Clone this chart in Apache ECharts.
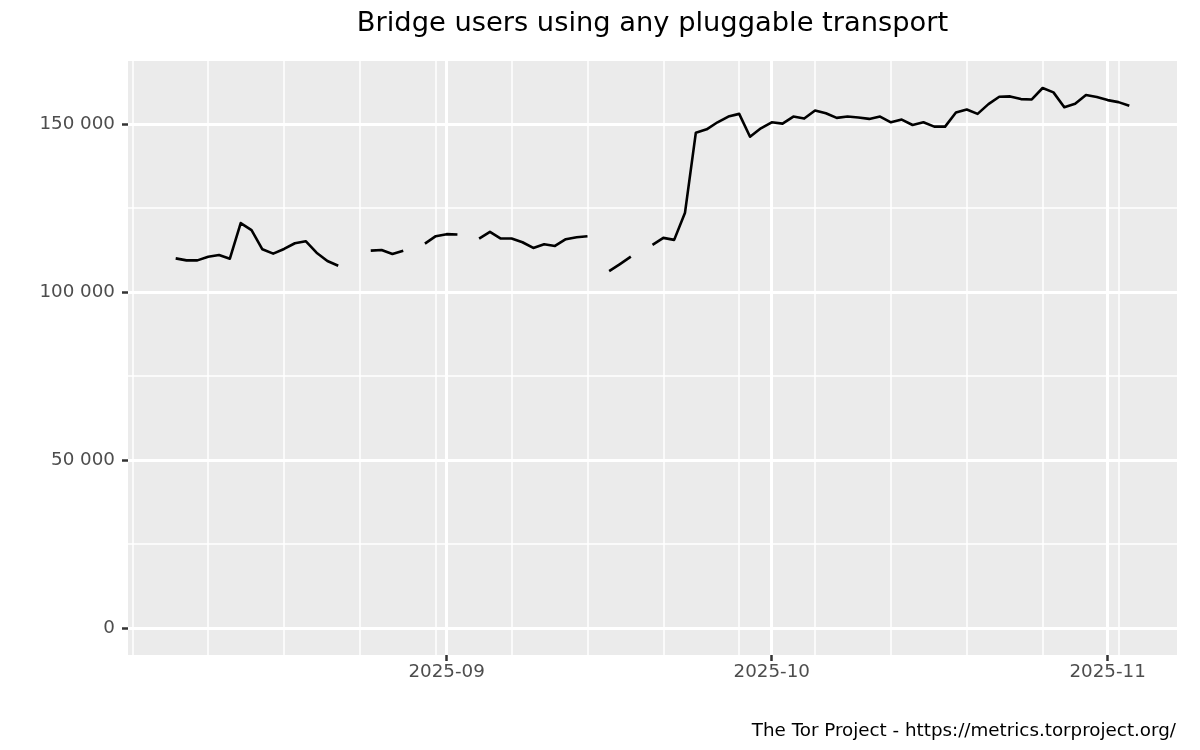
<!DOCTYPE html>
<html>
<head>
<meta charset="utf-8">
<script src="https://cdn.jsdelivr.net/npm/echarts@6/dist/echarts.min.js"></script>
<style>
html,body{margin:0;padding:0;background:#fff;}
#chart{width:1200px;height:750px;}
</style>
</head>
<body>
<div id="chart"></div>
<script>
var titleText = 'Bridge users using any pluggable transport';
var captionText = 'The Tor Project - https://metrics.torproject.org/';

var dates = [
 '2025-08-07','2025-08-08','2025-08-09','2025-08-10','2025-08-11','2025-08-12','2025-08-13','2025-08-14',
 '2025-08-15','2025-08-16','2025-08-17','2025-08-18','2025-08-19','2025-08-20','2025-08-21','2025-08-22',
 '2025-08-23','2025-08-24','2025-08-25','2025-08-26','2025-08-27','2025-08-28','2025-08-29','2025-08-30',
 '2025-08-31','2025-09-01','2025-09-02','2025-09-03','2025-09-04','2025-09-05','2025-09-06','2025-09-07',
 '2025-09-08','2025-09-09','2025-09-10','2025-09-11','2025-09-12','2025-09-13','2025-09-14','2025-09-15',
 '2025-09-16','2025-09-17','2025-09-18','2025-09-19','2025-09-20','2025-09-21','2025-09-22','2025-09-23',
 '2025-09-24','2025-09-25','2025-09-26','2025-09-27','2025-09-28','2025-09-29','2025-09-30','2025-10-01',
 '2025-10-02','2025-10-03','2025-10-04','2025-10-05','2025-10-06','2025-10-07','2025-10-08','2025-10-09',
 '2025-10-10','2025-10-11','2025-10-12','2025-10-13','2025-10-14','2025-10-15','2025-10-16','2025-10-17',
 '2025-10-18','2025-10-19','2025-10-20','2025-10-21','2025-10-22','2025-10-23','2025-10-24','2025-10-25',
 '2025-10-26','2025-10-27','2025-10-28','2025-10-29','2025-10-30','2025-10-31','2025-11-01','2025-11-02',
 '2025-11-03'
];

var users = [
 110000,109400,109400,110500,111000,109900,120500,118400,
 112700,111400,112800,114500,115100,111700,109200,107800,
 null,null,112300,112500,111300,112300,null,114400,
 116600,117200,117100,null,115900,117900,115900,115900,
 114800,113100,114200,113700,115700,116300,116600,null,
 106200,108300,110500,null,114000,116100,115500,123600,
 147400,148400,150500,152200,153000,146200,148700,150500,
 150100,152200,151600,154000,153200,151800,152200,151900,
 151500,152200,150500,151300,149700,150500,149200,149200,
 153400,154300,153000,155900,158100,158200,157400,157300,
 160700,159400,155000,156000,158600,158000,157100,156500,
 155400
];

var xMajorDates = ['2025-09-01','2025-10-01','2025-11-01'];
var xMajorLabels = ['2025-09','2025-10','2025-11'];
var xMinorDates = ['2025-08-03','2025-08-10','2025-08-17','2025-08-24','2025-08-31','2025-09-07','2025-09-14',
 '2025-09-21','2025-09-28','2025-10-05','2025-10-12','2025-10-19','2025-10-26','2025-11-02'];
var yMajorTicks = [0, 50000, 100000, 150000];
var yMajorLabels = ['0', '50 000', '100 000', '150 000'];
var yMinorTicks = [25000, 75000, 125000];

function ms(s){ var p = s.split('-'); return Date.UTC(+p[0], +p[1]-1, +p[2]); }

// ggplot-like 5% expansion
var xs = dates.map(ms);
var xSpan = xs[xs.length-1] - xs[0];
var xMin = xs[0] - 0.05*xSpan, xMax = xs[xs.length-1] + 0.05*xSpan;
var yHi = 0;
users.forEach(function(v){ if (v != null && v > yHi) yHi = v; });
var yMin = -0.05*yHi, yMax = yHi*1.05;

var seriesData = xs.map(function(t,i){ return [t, users[i]]; });

var FONT = 'DejaVu Sans';
var majorX = xMajorDates.map(ms), minorX = xMinorDates.map(ms);

var chart = echarts.init(document.getElementById('chart'), null, {renderer:'canvas'});
chart.setOption({
  animation: false,
  backgroundColor: '#ffffff',
  grid: {left:128, right:23, top:61, bottom:95, show:true, backgroundColor:'#EBEBEB', borderWidth:0, containLabel:false},
  xAxis: [
    {type:'value', min:xMin, max:xMax, position:'bottom',
     axisLine:{show:false, onZero:false}, axisTick:{show:false, customValues:minorX},
     axisLabel:{show:false, customValues:minorX},
     splitLine:{show:true, lineStyle:{color:'#ffffff', width:1.5}}},
    {type:'value', min:xMin, max:xMax, position:'bottom',
     axisLine:{show:false, onZero:false},
     axisTick:{show:true, customValues:majorX, length:6, lineStyle:{color:'#333333', width:2.5}},
     axisLabel:{show:true, customValues:majorX, margin:8, color:'#4D4D4D', fontSize:18.3, fontFamily:FONT,
       formatter:function(v){ var i = majorX.indexOf(v); return i >= 0 ? xMajorLabels[i] : ''; }},
     splitLine:{show:true, lineStyle:{color:'#ffffff', width:3}}}
  ],
  yAxis: [
    {type:'value', min:yMin, max:yMax,
     axisLine:{show:false, onZero:false}, axisTick:{show:false, customValues:yMinorTicks},
     axisLabel:{show:false, customValues:yMinorTicks},
     splitLine:{show:true, lineStyle:{color:'#ffffff', width:1.5}}},
    {type:'value', min:yMin, max:yMax, position:'left',
     axisLine:{show:false, onZero:false},
     axisTick:{show:true, customValues:yMajorTicks, length:6, lineStyle:{color:'#333333', width:2.5}},
     axisLabel:{show:true, customValues:yMajorTicks, margin:13, color:'#4D4D4D', fontSize:18.3, fontFamily:FONT,
       formatter:function(v){ var i = yMajorTicks.indexOf(v); return i >= 0 ? yMajorLabels[i] : ''; }},
     splitLine:{show:true, lineStyle:{color:'#ffffff', width:3}}}
  ],
  series: [{
    type:'line', xAxisIndex:1, yAxisIndex:1, data:seriesData,
    showSymbol:false, connectNulls:false,
    lineStyle:{color:'#000000', width:2.6, join:'round'},
    itemStyle:{color:'#000000'}, z:5
  }],
  graphic: [
    {type:'text', x:652.5, y:10, style:{text:titleText, fill:'#000000', font:'27.3px "DejaVu Sans"', textAlign:'center', textVerticalAlign:'top'}},
    {type:'text', x:1176, y:722, style:{text:captionText, fill:'#000000', font:'18.3px "DejaVu Sans"', textAlign:'right', textVerticalAlign:'top'}}
  ]
});
</script>
</body>
</html>
